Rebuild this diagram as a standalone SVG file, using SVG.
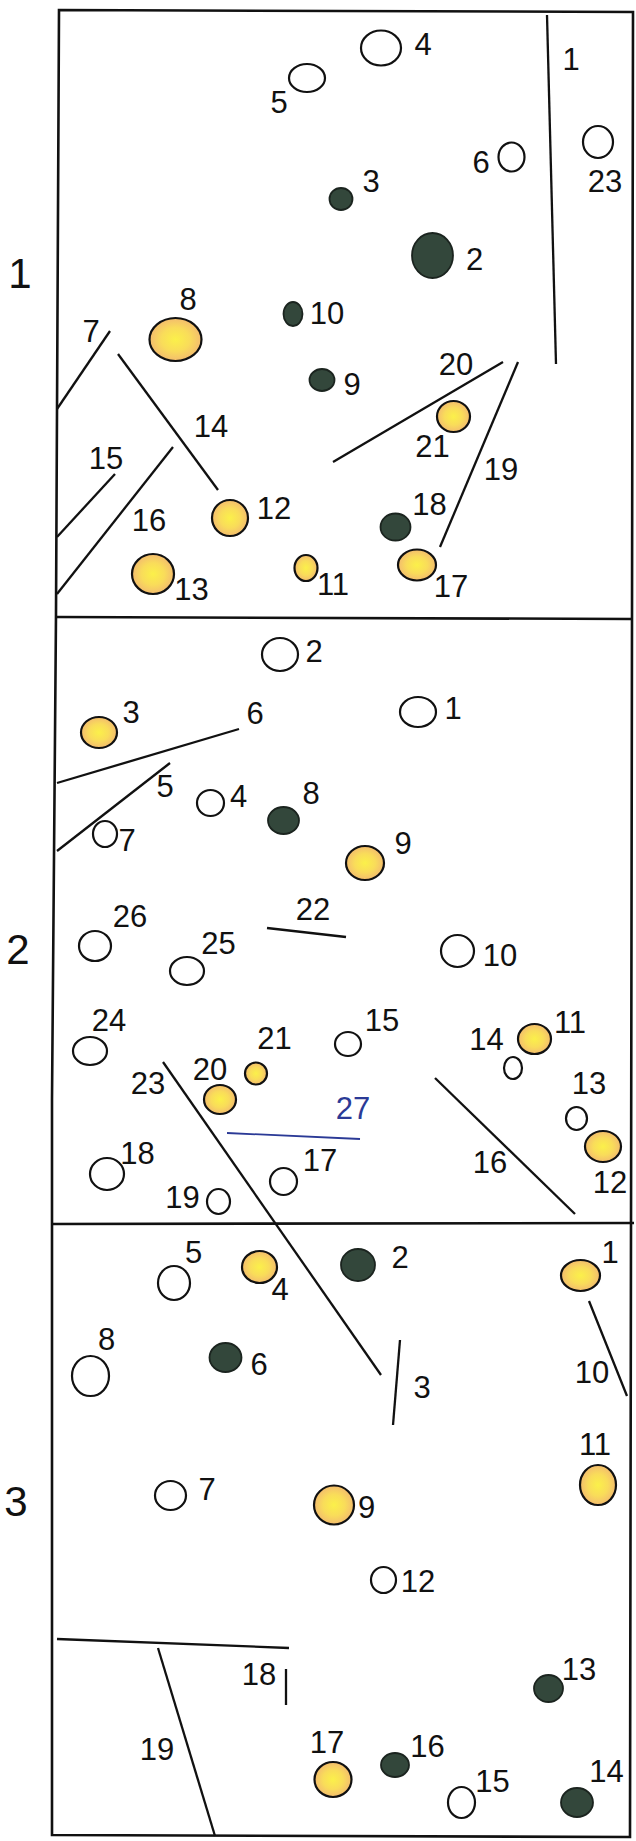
<svg xmlns="http://www.w3.org/2000/svg" width="636" height="1841" viewBox="0 0 636 1841">
<defs>
<radialGradient id="yg" cx="50%" cy="50%" r="50%">
<stop offset="0%" stop-color="#fbf04a"/>
<stop offset="55%" stop-color="#f9dc5a"/>
<stop offset="100%" stop-color="#f3bc6e"/>
</radialGradient>
<style>
.frame{fill:none;stroke:#111;stroke-width:2.6;stroke-linejoin:miter}
.ln{stroke:#111;stroke-width:2.3;fill:none;stroke-linecap:butt}
.blue{stroke:#2b3a96;stroke-width:1.8;fill:none}
.open{fill:#fff;stroke:#111;stroke-width:2.2}
.yel{fill:url(#yg);stroke:#111;stroke-width:2.2}
.dark{fill:#33473b;stroke:#1b241f;stroke-width:1.8}
text{font-family:"Liberation Sans",Arial,sans-serif;fill:#111;text-anchor:middle}
.lbl{font-size:31px}
.bl{fill:#2b3a96}
.pnum{font-size:42px}
</style>
</defs>
<rect width="636" height="1841" fill="#fff"/>
<g id="frame">
<path class="frame" d="M59,10 L633,12 L630,1837 L52,1835 L52,1100 L56,614 Z"/>
<line class="frame" x1="56" y1="617" x2="632" y2="619"/>
<line class="frame" x1="52" y1="1224" x2="634" y2="1223"/>
<text class="pnum" x="20" y="288">1</text>
<text class="pnum" x="18" y="964">2</text>
<text class="pnum" x="16" y="1516">3</text>
</g>
<g id="lines">
<g id="p1-l1"><line class="ln" x1="547" y1="15" x2="556" y2="364"/><text class="lbl" x="571" y="70">1</text></g>
<g id="p1-l7"><line class="ln" x1="110" y1="331" x2="57" y2="409"/><text class="lbl" x="91" y="342">7</text></g>
<g id="p1-l14"><line class="ln" x1="118" y1="354" x2="218" y2="490"/><text class="lbl" x="211" y="437">14</text></g>
<g id="p1-l15"><line class="ln" x1="115" y1="474" x2="57" y2="537"/><text class="lbl" x="106" y="469">15</text></g>
<g id="p1-l16"><line class="ln" x1="173" y1="447" x2="57" y2="594"/><text class="lbl" x="149" y="531">16</text></g>
<g id="p1-l20"><line class="ln" x1="503" y1="362" x2="333" y2="462"/><text class="lbl" x="456" y="375">20</text></g>
<g id="p1-l19"><line class="ln" x1="518" y1="362" x2="440" y2="547"/><text class="lbl" x="501" y="480">19</text></g>
<g id="p2-l6"><line class="ln" x1="57" y1="783" x2="239" y2="729"/><text class="lbl" x="255" y="724">6</text></g>
<g id="p2-l5"><line class="ln" x1="57" y1="851" x2="170" y2="763"/><text class="lbl" x="165" y="797">5</text></g>
<g id="p2-l22"><line class="ln" x1="267" y1="928" x2="346" y2="937"/><text class="lbl" x="313" y="920">22</text></g>
<g id="p2-l23"><line class="ln" x1="163" y1="1062" x2="381" y2="1375"/><text class="lbl" x="148" y="1094">23</text></g>
<g id="p2-l27"><line class="blue" x1="227" y1="1133" x2="360" y2="1139"/><text class="lbl bl" x="353" y="1119">27</text></g>
<g id="p2-l16"><line class="ln" x1="435" y1="1078" x2="575" y2="1214"/><text class="lbl" x="490" y="1173">16</text></g>
<g id="p3-l3"><line class="ln" x1="400" y1="1340" x2="393" y2="1425"/><text class="lbl" x="422" y="1398">3</text></g>
<g id="p3-l10"><line class="ln" x1="589" y1="1301" x2="627" y2="1396"/><text class="lbl" x="592" y="1383">10</text></g>
<g id="p3-lh"><line class="ln" x1="57" y1="1639" x2="289" y2="1648"/></g>
<g id="p3-l19"><line class="ln" x1="158" y1="1648" x2="215" y2="1836"/><text class="lbl" x="157" y="1760">19</text></g>
<g id="p3-l18"><line class="ln" x1="286" y1="1669" x2="286" y2="1705"/><text class="lbl" x="259" y="1685">18</text></g>
</g>
<g id="panel1">
<g id="p1-n5"><ellipse class="open" cx="307" cy="78" rx="18" ry="14"/><text class="lbl" x="279" y="113">5</text></g>
<g id="p1-n4"><ellipse class="open" cx="381" cy="48" rx="20" ry="17.5"/><text class="lbl" x="423" y="55">4</text></g>
<g id="p1-n6"><ellipse class="open" cx="511.5" cy="157" rx="13" ry="14.5"/><text class="lbl" x="481" y="173">6</text></g>
<g id="p1-n23"><ellipse class="open" cx="598" cy="142" rx="15" ry="16"/><text class="lbl" x="605" y="192">23</text></g>
<g id="p1-n3"><ellipse class="dark" cx="341" cy="199" rx="11.5" ry="11"/><text class="lbl" x="371" y="192">3</text></g>
<g id="p1-n2"><ellipse class="dark" cx="432.5" cy="255.5" rx="20.5" ry="22.5"/><text class="lbl" x="474.5" y="270">2</text></g>
<g id="p1-n10"><ellipse class="dark" cx="293" cy="314" rx="9.5" ry="12"/><text class="lbl" x="327" y="324">10</text></g>
<g id="p1-n9"><ellipse class="dark" cx="322" cy="380" rx="12.5" ry="11"/><text class="lbl" x="352" y="395">9</text></g>
<g id="p1-n8"><ellipse class="yel" cx="175.5" cy="339.5" rx="26" ry="21.5"/><text class="lbl" x="188" y="310">8</text></g>
<g id="p1-n12"><ellipse class="yel" cx="230" cy="518" rx="18" ry="18"/><text class="lbl" x="274" y="519">12</text></g>
<g id="p1-n13"><ellipse class="yel" cx="153" cy="574" rx="21" ry="20"/><text class="lbl" x="191.5" y="600">13</text></g>
<g id="p1-n11"><ellipse class="yel" cx="306" cy="568" rx="11.5" ry="13"/><text class="lbl" x="333" y="595">11</text></g>
<g id="p1-n21"><ellipse class="yel" cx="453.5" cy="416.5" rx="16.5" ry="15.5"/><text class="lbl" x="432.5" y="457">21</text></g>
<g id="p1-n18"><ellipse class="dark" cx="395.5" cy="527" rx="15" ry="13.5"/><text class="lbl" x="429.5" y="515">18</text></g>
<g id="p1-n17"><ellipse class="yel" cx="417" cy="565" rx="19" ry="15.5"/><text class="lbl" x="451" y="597">17</text></g>
</g>
<g id="panel2">
<g id="p2-n2"><ellipse class="open" cx="280" cy="654.5" rx="18" ry="16.5"/><text class="lbl" x="314" y="662">2</text></g>
<g id="p2-n1"><ellipse class="open" cx="418" cy="712" rx="18" ry="15"/><text class="lbl" x="453" y="719">1</text></g>
<g id="p2-n3"><ellipse class="yel" cx="99" cy="732.5" rx="18" ry="15.5"/><text class="lbl" x="131" y="723">3</text></g>
<g id="p2-n4"><ellipse class="open" cx="210.5" cy="803" rx="13.5" ry="13"/><text class="lbl" x="238.5" y="807">4</text></g>
<g id="p2-n7"><ellipse class="open" cx="105" cy="834" rx="12" ry="13"/><text class="lbl" x="127" y="851">7</text></g>
<g id="p2-n8"><ellipse class="dark" cx="283.5" cy="820.5" rx="15.5" ry="13.5"/><text class="lbl" x="311" y="804">8</text></g>
<g id="p2-n9"><ellipse class="yel" cx="365" cy="863" rx="19" ry="17"/><text class="lbl" x="403" y="854">9</text></g>
<g id="p2-n26"><ellipse class="open" cx="95" cy="946" rx="16" ry="15"/><text class="lbl" x="130" y="927">26</text></g>
<g id="p2-n25"><ellipse class="open" cx="187" cy="971" rx="17" ry="14"/><text class="lbl" x="218.5" y="954">25</text></g>
<g id="p2-n10"><ellipse class="open" cx="457.5" cy="951" rx="16.5" ry="16"/><text class="lbl" x="500" y="966">10</text></g>
<g id="p2-n24"><ellipse class="open" cx="90" cy="1051" rx="17" ry="14"/><text class="lbl" x="109" y="1031">24</text></g>
<g id="p2-n15"><ellipse class="open" cx="348" cy="1044" rx="13" ry="12"/><text class="lbl" x="382" y="1031">15</text></g>
<g id="p2-n21"><ellipse class="yel" cx="256" cy="1073.5" rx="11" ry="11"/><text class="lbl" x="274.5" y="1049">21</text></g>
<g id="p2-n20"><ellipse class="yel" cx="220" cy="1099.5" rx="16" ry="14.5"/><text class="lbl" x="210" y="1080">20</text></g>
<g id="p2-n14"><ellipse class="open" cx="513" cy="1068" rx="9" ry="11"/><text class="lbl" x="486.5" y="1050">14</text></g>
<g id="p2-n11"><ellipse class="yel" cx="534.5" cy="1039" rx="16.5" ry="15"/><text class="lbl" x="570" y="1033">11</text></g>
<g id="p2-n13"><ellipse class="open" cx="576.5" cy="1118.5" rx="10.5" ry="11.5"/><text class="lbl" x="589" y="1094">13</text></g>
<g id="p2-n12"><ellipse class="yel" cx="603" cy="1146.5" rx="18" ry="15.5"/><text class="lbl" x="610" y="1193">12</text></g>
<g id="p2-n18"><ellipse class="open" cx="107" cy="1174" rx="17" ry="16"/><text class="lbl" x="137.5" y="1164">18</text></g>
<g id="p2-n19"><ellipse class="open" cx="218.5" cy="1201.5" rx="11.5" ry="12.5"/><text class="lbl" x="182.5" y="1208">19</text></g>
<g id="p2-n17"><ellipse class="open" cx="283.5" cy="1181.5" rx="13.5" ry="13.5"/><text class="lbl" x="320" y="1171">17</text></g>
</g>
<g id="panel3">
<g id="p3-n5"><ellipse class="open" cx="174" cy="1283" rx="16" ry="17"/><text class="lbl" x="193.5" y="1263">5</text></g>
<g id="p3-n4"><ellipse class="yel" cx="259.5" cy="1267" rx="17.5" ry="16"/><text class="lbl" x="280" y="1300">4</text></g>
<g id="p3-n2"><ellipse class="dark" cx="358" cy="1265" rx="17" ry="16"/><text class="lbl" x="400" y="1268">2</text></g>
<g id="p3-n1"><ellipse class="yel" cx="580.5" cy="1275.5" rx="19.5" ry="15.5"/><text class="lbl" x="610" y="1263">1</text></g>
<g id="p3-n8"><ellipse class="open" cx="90.5" cy="1376" rx="18.5" ry="20"/><text class="lbl" x="106.5" y="1350">8</text></g>
<g id="p3-n6"><ellipse class="dark" cx="225.5" cy="1357.5" rx="16" ry="14.5"/><text class="lbl" x="259" y="1375">6</text></g>
<g id="p3-n7"><ellipse class="open" cx="170.5" cy="1495.5" rx="15.5" ry="14.5"/><text class="lbl" x="207" y="1500">7</text></g>
<g id="p3-n9"><ellipse class="yel" cx="334" cy="1505" rx="20" ry="19.5"/><text class="lbl" x="366.5" y="1518">9</text></g>
<g id="p3-n11"><ellipse class="yel" cx="598" cy="1485" rx="18" ry="20"/><text class="lbl" x="595" y="1455">11</text></g>
<g id="p3-n12"><ellipse class="open" cx="383.5" cy="1580" rx="12.5" ry="13"/><text class="lbl" x="418" y="1592">12</text></g>
<g id="p3-n13"><ellipse class="dark" cx="548.5" cy="1688.5" rx="14.5" ry="13.5"/><text class="lbl" x="579" y="1680">13</text></g>
<g id="p3-n16"><ellipse class="dark" cx="395" cy="1765" rx="14" ry="12"/><text class="lbl" x="427.5" y="1757">16</text></g>
<g id="p3-n17"><ellipse class="yel" cx="333" cy="1779.5" rx="18.5" ry="17.5"/><text class="lbl" x="327" y="1753">17</text></g>
<g id="p3-n15"><ellipse class="open" cx="461.5" cy="1802.5" rx="13.5" ry="15.5"/><text class="lbl" x="492.5" y="1792">15</text></g>
<g id="p3-n14"><ellipse class="dark" cx="577" cy="1802.5" rx="16" ry="14.5"/><text class="lbl" x="606.5" y="1782">14</text></g>
</g>
</svg>
